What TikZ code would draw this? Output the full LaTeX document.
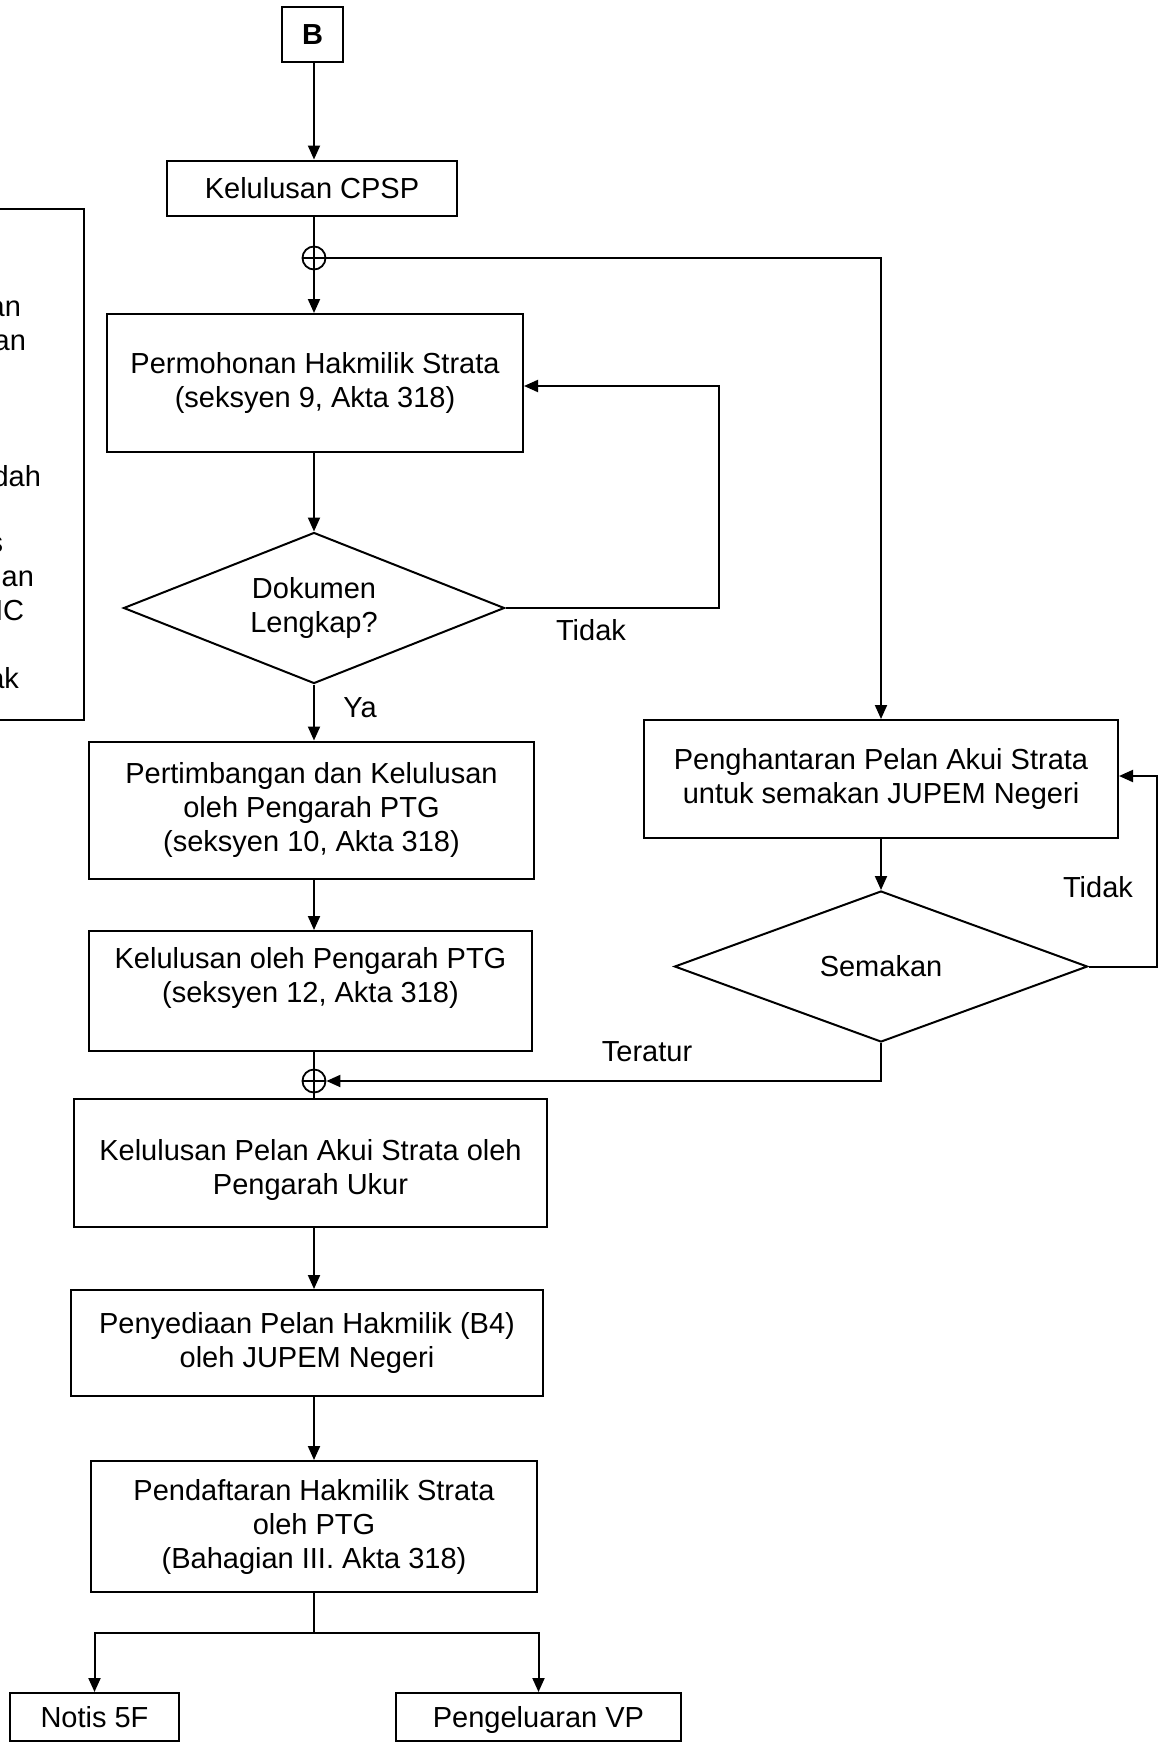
\documentclass[tikz,border=0pt]{standalone}
\usepackage{fontspec}
\setmainfont{Liberation Sans}
\usetikzlibrary{arrows.meta,shapes.geometric,calc}
\begin{document}
\begin{tikzpicture}[x=1pt,y=-1pt,line width=2pt,
  every node/.style={font=\fontsize{29}{34}\selectfont},
  box/.style={draw,rectangle,align=center,inner sep=0pt},
  dec/.style={draw,diamond,align=center,inner sep=0pt},
  junc/.style={draw,circle,minimum size=23pt,inner sep=0pt,line width=1.8pt,
    path picture={\draw[line width=1.6pt] (path picture bounding box.north) -- (path picture bounding box.south)
      (path picture bounding box.west) -- (path picture bounding box.east);}},
  arr/.style={-{Triangle[length=14pt,width=12pt]}},
  lbl/.style={inner sep=0pt}]
\useasboundingbox (0,0) rectangle (1160,1742);
\coordinate (mx) at (314,0);
% left partial box
\node[box,minimum width=104pt,minimum height=511pt] (side) at (32,464.5) {};
\node[lbl,anchor=base east] (f1) at (22,316) {an};
\node[lbl,anchor=base east] (f2) at (27,350) {an};
\node[lbl,anchor=base east] (f3) at (42,486) {dah};
\node[lbl,anchor=base east] (f4) at (4,552) {s};
\node[lbl,anchor=base east] (f5) at (35,586) {gan};
\node[lbl,anchor=base east] (f6) at (25,620) {MC};
\node[lbl,anchor=base east] (f7) at (3,654) {l};
\node[lbl,anchor=base east] (f8) at (20,688) {ak};
% main column
\node[box,minimum width=61pt,minimum height=55pt,font=\fontsize{29}{34}\selectfont\bfseries] (b) at (312.5,34.5) {B};
\node[box,minimum width=290pt,minimum height=55pt] (cpsp) at (312,188) {Kelulusan CPSP};
\node[junc] (j1) at (314,258) {};
\node[box,minimum width=416pt,minimum height=138pt] (perm) at (315,383) {Permohonan Hakmilik Strata\\(seksyen 9, Akta 318)};
\node[dec,aspect=2.53,minimum width=381pt,minimum height=151pt] (dok) at (314,608) {Dokumen\\Lengkap?};
\node[box,minimum width=445pt,minimum height=137pt] (pert) at (311.5,810) {Pertimbangan dan Kelulusan\\oleh Pengarah PTG\\(seksyen 10, Akta 318)};
\node[box,minimum width=443pt,minimum height=120pt,
  label={[lbl,align=center,yshift=13pt]center:{Kelulusan oleh Pengarah PTG\\(seksyen 12, Akta 318)}}] (kel) at (310.5,991) {};
\node[junc] (j2) at (314,1081) {};
\node[box,minimum width=473pt,minimum height=128pt,
  label={[lbl,align=center,yshift=-7pt]center:{Kelulusan Pelan Akui Strata oleh\\Pengarah Ukur}}] (kpas) at (310.5,1163) {};
\node[box,minimum width=472pt,minimum height=106pt] (peny) at (307,1343) {Penyediaan Pelan Hakmilik (B4)\\oleh JUPEM Negeri};
\node[box,minimum width=446pt,minimum height=131pt] (pend) at (314,1526.5) {Pendaftaran Hakmilik Strata\\oleh PTG\\(Bahagian III. Akta 318)};
\node[box,minimum width=169pt,minimum height=48pt,text depth=0pt] (notis) at (94.5,1717) {Notis 5F};
\node[box,minimum width=285pt,minimum height=48pt,text depth=0pt] (vp) at (538.5,1717) {Pengeluaran VP};
% right column
\node[box,minimum width=474pt,minimum height=118pt] (peng) at (881,779) {Penghantaran Pelan Akui Strata\\untuk semakan JUPEM Negeri};
\node[dec,minimum width=413pt,minimum height=151pt] (sem) at (881,966.5) {Semakan};
% labels
\node[lbl] (tidak1) at (591,630) {Tidak};
\node[lbl] (ya) at (360,708) {Ya};
\node[lbl] (tidak2) at (1098,887) {Tidak};
\node[lbl] (teratur) at (647,1052) {Teratur};
% connectors
\coordinate (r1) at (719,386);
\coordinate (r2) at (1157,776);
\coordinate (sp) at (314,1633);
\draw[arr] (b.south -| mx) -- (cpsp.north -| mx);
\draw (cpsp.south -| mx) -- (j1.north);
\draw[arr] (j1.south) -- (perm.north -| mx);
\draw[arr] (perm.south -| mx) -- (dok.north);
\draw[arr] (dok.east) -| (r1) -- (r1 -| perm.east);
\draw[arr] (dok.south) -- (pert.north -| mx);
\draw[arr] (pert.south -| mx) -- (kel.north -| mx);
\draw (kel.south -| mx) -- (j2.north);
\draw (j2.south) -- (kpas.north -| mx);
\draw[arr] (kpas.south -| mx) -- (peny.north -| mx);
\draw[arr] (peny.south -| mx) -- (pend.north -| mx);
\draw (pend.south -| mx) -- (sp);
\draw[arr] (sp) -| (notis.north);
\draw[arr] (sp) -| (vp.north);
\draw[arr] (j1.east) -| (peng.north);
\draw[arr] (peng.south) -- (sem.north);
\draw[arr] (sem.east) -| (r2) -- (r2 -| peng.east);
\draw[arr] (sem.south) |- (j2.east);
\end{tikzpicture}
\end{document}
